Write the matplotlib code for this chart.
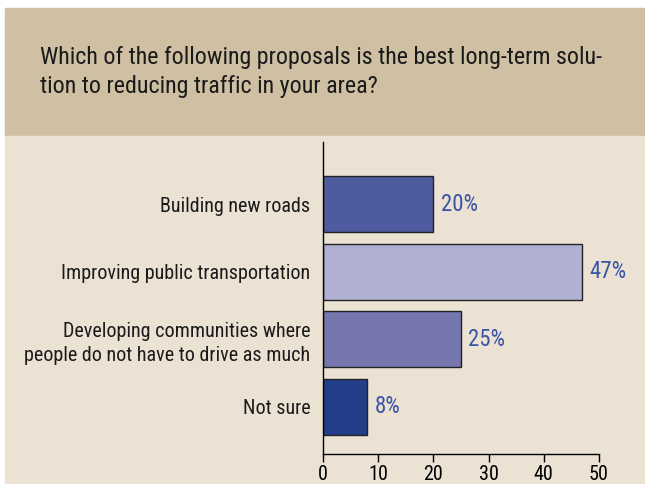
import matplotlib.pyplot as plt
from matplotlib.patches import Rectangle

plt.rcParams["font.family"] = ["Roboto Condensed", "DejaVu Sans"]

question = ("Which of the following proposals is the best long-term solu-\n"
            "tion to reducing traffic in your area?")
answers = ["Building new roads",
           "Improving public transportation",
           "Developing communities where\npeople do not have to drive as much",
           "Not sure"]
percents = [20, 47, 25, 8]
bar_colors = ["#4e5b9e", "#b0b0d3", "#7777b0", "#233f8a"]
x_ticks = [0, 10, 20, 30, 40, 50]

W, H = 645, 484
fig = plt.figure(figsize=(6.45, 4.84), dpi=100, facecolor="white")

# background panels
fig.patches.append(Rectangle((5 / W, 1 - 136 / H), 639 / W, 128 / H,
                             transform=fig.transFigure, color="#cfbfa3", zorder=-10))
fig.patches.append(Rectangle((5 / W, 0), 639 / W, 1 - 136 / H,
                             transform=fig.transFigure, color="#ebe2d4", zorder=-10))

fig.text(40 / W, 1 - 72 / H, question, fontsize=17.3, color="#1a1a1a",
         va="center", ha="left", linespacing=1.36)

ax = fig.add_axes([323 / W, 1 - 454 / H, 276 / W, 312 / H])
ax.set_facecolor("none")

y = range(len(answers))
ax.barh(y, percents, height=0.83, color=bar_colors, edgecolor="#222222", linewidth=1)
for i, p in enumerate(percents):
    ax.text(p + 1.3, i, f"{p}%", va="center", ha="left", fontsize=16.5, color="#3a55a5")

ax.set_xlim(0, 50)
ax.set_ylim(3.70, -0.92)
ax.set_xticks(x_ticks)
ax.tick_params(axis="x", labelsize=14.5, length=6, width=1, colors="black", pad=2)
ax.set_yticks(list(y))
ax.set_yticklabels(answers, fontsize=14.5, color="#1a1a1a", linespacing=1.3)
ax.tick_params(axis="y", length=0, pad=9)
for lbl in ax.get_yticklabels():
    lbl.set_horizontalalignment("right")
    lbl.set_multialignment("right")
ax.spines["top"].set_visible(False)
ax.spines["right"].set_visible(False)
ax.spines["left"].set_linewidth(1)
ax.spines["bottom"].set_linewidth(1)

fig.savefig("out.png", dpi=100)
